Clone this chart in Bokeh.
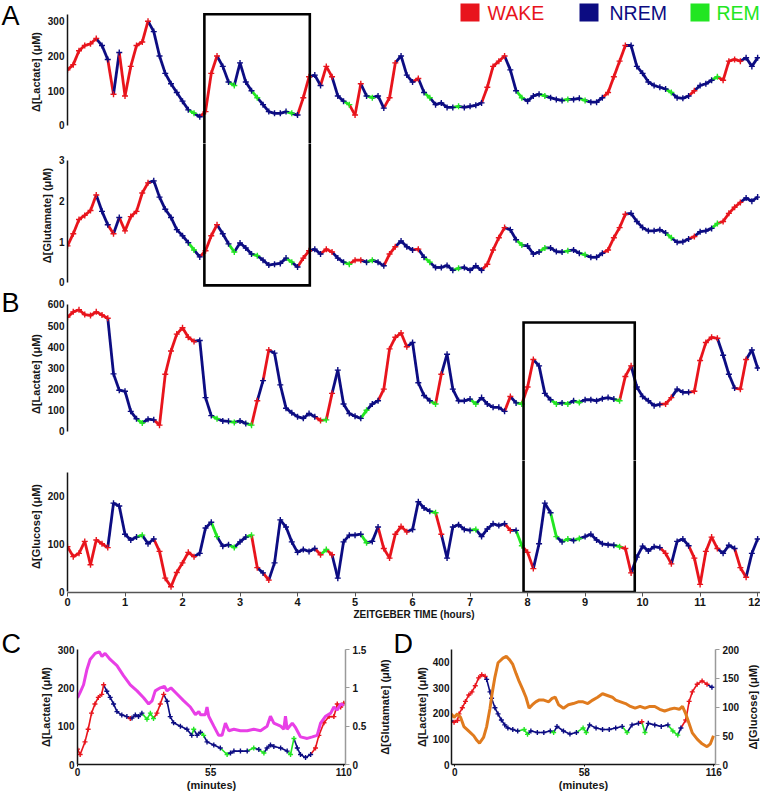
from bokeh.plotting import figure
from bokeh.models import (Range1d, LinearAxis, Label, BoxAnnotation, Spacer,
                          FixedTicker, ColumnDataSource, NumeralTickFormatter)
from bokeh.layouts import column, row
from bokeh.embed import file_html
from bokeh.resources import INLINE

# ------------------------------------------------------------------ data
# sampling times (hours) of the 12 h recordings
hours = [round(i * 0.1, 1) for i in range(121)]

# Panel A : lactate (uM) and glutamate (uM), one value per 0.1 h
a_lactate = [160, 175, 215, 230, 235, 250, 230, 190, 90, 210,
             85, 170, 230, 240, 300, 270, 200, 150, 120, 95,
             70, 45, 35, 25, 40, 150, 200, 170, 125, 115,
             180, 125, 100, 80, 60, 40, 35, 35, 40, 35,
             30, 80, 140, 145, 115, 170, 140, 85, 70, 60,
             30, 120, 85, 80, 85, 50, 80, 180, 200, 145,
             125, 135, 95, 80, 60, 65, 52, 52, 55, 52,
             55, 58, 65, 110, 170, 185, 200, 160, 100, 80,
             70, 85, 90, 85, 80, 75, 72, 75, 75, 78,
             72, 67, 67, 80, 95, 140, 185, 230, 230, 170,
             150, 125, 115, 110, 105, 95, 80, 78, 85, 100,
             115, 120, 130, 140, 130, 185, 190, 185, 195, 170,
             195]
a_glutamate = [0.90, 1.20, 1.55, 1.65, 1.77, 2.15, 1.75, 1.42, 1.20, 1.60,
               1.27, 1.62, 1.75, 2.20, 2.45, 2.50, 2.10, 1.80, 1.60, 1.30,
               1.15, 0.98, 0.80, 0.63, 0.78, 1.15, 1.42, 1.20, 0.95, 0.75,
               0.97, 0.85, 0.70, 0.66, 0.55, 0.43, 0.45, 0.47, 0.60, 0.50,
               0.38, 0.60, 0.78, 0.82, 0.70, 0.82, 0.75, 0.60, 0.50, 0.45,
               0.55, 0.55, 0.50, 0.55, 0.50, 0.41, 0.70, 0.88, 1.02, 0.88,
               0.80, 0.82, 0.62, 0.50, 0.37, 0.37, 0.42, 0.30, 0.35, 0.37,
               0.30, 0.41, 0.30, 0.45, 0.80, 1.10, 1.35, 1.30, 1.05, 0.92,
               0.90, 0.70, 0.75, 0.85, 0.85, 0.76, 0.75, 0.78, 0.80, 0.72,
               0.68, 0.62, 0.62, 0.72, 0.80, 1.10, 1.35, 1.68, 1.70, 1.50,
               1.35, 1.27, 1.27, 1.30, 1.22, 1.10, 0.99, 1.00, 1.07, 1.13,
               1.25, 1.27, 1.33, 1.45, 1.50, 1.70, 1.85, 1.97, 2.08, 2.00,
               2.10]
# W = WAKE, N = NREM, G = REM
a_states = ("WWWWWWNNWN" "WWWWWNNNNN" "NNGNWWWNNG" "NNNGNNNNNG" "NWWNNWWNNG"
            "WWNGNNWWNN" "NWNGNNNNGN" "NNNWWWWNNG" "NNNGNNNGNN" "GNNNWWWWNN"
            "NNNNNGNNNW" "NNNGWWWWNN" "N")

# Panel B : lactate (uM) and glucose (uM)
b_lactate = [540, 565, 575, 552, 548, 565, 550, 535, 272, 195,
             190, 95, 60, 40, 58, 55, 30, 270, 380, 460,
             490, 445, 425, 430, 160, 75, 60, 50, 48, 43,
             50, 38, 30, 145, 240, 385, 370, 220, 110, 88,
             70, 62, 85, 70, 52, 55, 180, 290, 130, 85,
             72, 62, 100, 130, 145, 200, 390, 445, 465, 400,
             420, 230, 170, 145, 130, 270, 365, 200, 145, 145,
             153, 130, 160, 130, 114, 114, 95, 165, 135, 130,
             210, 340, 310, 180, 150, 130, 135, 130, 145, 137,
             150, 150, 145, 155, 160, 153, 145, 260, 310, 210,
             165, 145, 122, 128, 130, 160, 200, 185, 185, 190,
             335, 420, 445, 440, 360, 270, 205, 200, 340, 385,
             300]
b_glucose = [94, 73, 80, 105, 56, 108, 100, 92, 185, 179,
             120, 108, 114, 118, 100, 110, 84, 28, 10, 40,
             60, 82, 73, 80, 133, 145, 115, 95, 98, 92,
             104, 114, 118, 50, 39, 24, 60, 150, 135, 104,
             82, 88, 84, 90, 77, 88, 77, 28, 104, 118,
             118, 120, 102, 105, 135, 90, 70, 120, 136, 125,
             130, 188, 175, 168, 165, 120, 70, 135, 140, 130,
             128, 130, 115, 131, 142, 138, 142, 128, 128, 96,
             82, 48, 100, 185, 165, 115, 104, 110, 107, 111,
             115, 120, 108, 100, 98, 97, 94, 90, 39, 72,
             95, 85, 94, 92, 80, 58, 105, 110, 96, 70,
             15, 84, 114, 90, 80, 97, 90, 50, 30, 80,
             110]
b_states = ("WWWWWWWWNN" "NNNGNNWWWW" "WWWNNNGNNG" "NNGWNWNNNN" "NNNNWGWNNN"
            "NNGNNWWWWW" "NNNNGWNNNN" "NGNNNNNWNG" "WWNNNGNGNG" "NNNNNNGWWN"
            "NNNNWWNNNW" "WWWWNNNWWN" "N")

# zoomed windows (start in hours, length in minutes)
box_a_start, box_a_minutes = 2.38, 110
box_b_start, box_b_minutes = 7.93, 116

# Panel C : 110 min window, lactate scatter + glutamate trace
c_minutes = [0, 1.1, 3.1, 4.4, 5.8, 7.2, 8.6, 10.0, 10.8, 12.1, 13.5, 14.9, 16.3,
             18.3, 20.4, 21.8, 22.5, 23.9, 25.2, 26.6, 28.7, 30.1, 31.4, 32.8,
             34.2, 35.6, 37.0, 38.3, 39.7, 42.5, 45.2, 47.2, 48.0, 49.4, 50.8,
             52.1, 53.5, 56.3, 59.0, 61.8, 63.2, 64.6, 67.3, 70.1, 72.8, 74.9,
             77.0, 78.3, 79.7, 81.1, 83.9, 86.6, 88.0, 89.4, 90.8, 92.1, 94.2,
             96.3, 98.3, 99.7, 101.8, 103.9, 105.9, 107.3, 108.7, 110.0]
c_lactate = [40, 26, 59, 92, 134, 158, 175, 183, 208, 191, 175, 158, 138,
             129, 125, 120, 121, 129, 125, 134, 118, 134, 120, 134,
             158, 183, 165, 125, 109, 100, 92, 76, 92, 76, 84,
             76, 59, 51, 43, 26, 30, 35, 35, 35, 43, 39,
             30, 43, 51, 47, 43, 35, 26, 68, 43, 26, 18,
             26, 43, 76, 109, 125, 125, 158, 150, 160]
c_states = ("WWWWWWWWW" "NNNNNN" "W" "NNNN" "GGG" "WWW" "NNNNNN" "G" "NN" "G"
            "NNN" "G" "NNNN" "G" "N" "G" "NNNNN" "GG" "NNNN" "WWWWWWWW")
c_glu_minutes = [0, 1.1, 2.5, 3.9, 5.2, 7.3, 9.0, 10.1, 11.4, 13.5, 16.3, 19.0,
                 21.8, 24.6, 27.3, 29.4, 30.8, 32.1, 34.2, 35.9, 37.0, 38.6, 41.1,
                 43.9, 46.6, 48.7, 50.1, 50.8, 52.8, 53.5, 54.2, 56.3, 58.3, 59.7,
                 61.1, 62.5, 64.6, 67.3, 70.1, 72.8, 75.6, 78.3, 79.7, 81.1, 83.9,
                 85.2, 85.9, 86.6, 88.7, 90.1, 92.1, 94.9, 97.0, 99.0, 100.4,
                 102.5, 104.6, 105.9, 107.3, 108.7, 110.0]
c_glutamate = [0.87, 0.94, 1.04, 1.24, 1.37, 1.45, 1.47, 1.41, 1.45, 1.37, 1.29, 1.16,
               1.04, 0.96, 0.87, 0.79, 0.83, 0.96, 1.00, 1.02, 0.96, 1.00, 0.92,
               0.83, 0.75, 0.65, 0.69, 0.65, 0.65, 0.75, 0.63, 0.50, 0.38, 0.38,
               0.54, 0.44, 0.46, 0.44, 0.44, 0.46, 0.44, 0.50, 0.63, 0.54, 0.50,
               0.46, 0.63, 0.46, 0.54, 0.48, 0.36, 0.34, 0.36, 0.38, 0.54,
               0.63, 0.67, 0.75, 0.71, 0.79, 0.77]

# Panel D : 116 min window, lactate scatter + glucose trace
d_minutes = [-1.5, -0.3, 1.2, 1.9, 3.4, 4.8, 6.3, 7.7, 9.2, 10.7, 12.1, 13.6, 14.3,
             15.8, 16.5, 18.0, 19.4, 20.9, 22.4, 23.8, 26.0, 28.2, 31.1, 32.6,
             34.1, 37.0, 39.9, 42.8, 44.3, 45.8, 48.7, 51.6, 54.5, 57.5, 58.9,
             60.4, 63.3, 66.2, 69.2, 72.1, 75.0, 77.2, 79.4, 82.3, 83.8, 85.2,
             86.7, 89.6, 92.5, 95.5, 97.7, 99.9, 101.3, 103.5, 105.0, 106.4,
             108.6, 110.8, 113.0, 115.2]
d_lactate = [170, 165, 172, 198, 222, 247, 272, 284, 308, 339, 351, 345, 333,
             284, 259, 222, 198, 174, 155, 143, 137, 131, 137, 118,
             131, 125, 125, 131, 125, 149, 131, 119, 125, 143, 125,
             155, 143, 137, 137, 143, 149, 125, 155, 161, 167, 125,
             161, 155, 149, 155, 131, 115, 143, 174, 247, 284,
             314, 327, 314, 302]
d_states = ("N" "WWWWWWWWWWW" "NNNNNNNNNN" "GG" "NNNN" "G" "NNNN" "GG" "NNNNNN"
            "G" "NN" "W" "G" "NNNN" "GG" "N" "WWWWWW" "N")
d_glc_minutes = [-1.5, -0.3, 1.2, 2.6, 4.1, 6.3, 8.5, 9.9, 11.1, 12.9, 14.3, 15.8,
                 16.8, 18.0, 19.4, 21.6, 23.1, 24.6, 26.0, 27.5, 28.9, 30.4, 31.9,
                 33.3, 34.8, 36.3, 37.7, 39.9, 42.1, 43.6, 45.0, 46.5, 48.7, 50.9,
                 53.1, 55.3, 57.5, 59.6, 61.8, 64.0, 66.2, 68.4, 70.6, 72.1, 74.3,
                 76.5, 78.7, 80.8, 83.0, 85.2, 87.4, 89.6, 91.8, 94.0, 96.2, 98.4,
                 100.6, 102.0, 103.5, 105.0, 106.4, 108.6, 110.8, 113.0, 114.5, 115.9]
d_glucose = [88, 82, 88, 82, 66, 58, 50, 42, 37, 47, 66, 98,
             125, 152, 177, 185, 188, 182, 174, 158, 144, 131, 117,
             98, 104, 109, 112, 112, 109, 115, 117, 104, 98, 104,
             106, 109, 109, 106, 112, 117, 123, 120, 117, 112, 109,
             106, 101, 98, 101, 98, 101, 101, 96, 93, 96, 98,
             96, 101, 88, 71, 55, 44, 36, 31, 36, 50]

hour_ticks = list(range(13))
legend_labels = ["WAKE", "NREM", "REM"]
legend_keys = ["W", "N", "G"]

# ------------------------------------------------------------------ style
STATE_COLORS = {"W": "#e8141c", "N": "#0c0c82", "G": "#22e622"}
FONT = "Liberation Sans"
INK = "#151515"
MAGENTA = "#e83fe6"
ORANGE = "#e07b1e"


def base_fig(width, height, xr, yr, left, right, top, bottom, x_axis=False,
             y_axis=True):
    p = figure(width=width, height=height,
               x_range=Range1d(*xr), y_range=Range1d(*yr),
               output_backend="svg", toolbar_location=None,
               x_axis_location="below" if x_axis else None,
               y_axis_location="left" if y_axis else None,
               min_border_left=left, min_border_right=right,
               min_border_top=top, min_border_bottom=bottom)
    p.outline_line_color = None
    p.grid.visible = False
    p.background_fill_color = "white"
    p.border_fill_color = "white"
    return p


def text_strip(width, height, text, x, y, size="27px"):
    s = base_fig(width, height, (0, 1), (0, 1), 0, 0, 0, 0, y_axis=False)
    s.add_layout(Label(x=x, y=y, x_units="screen", y_units="screen", text=text,
                       text_font=FONT, text_font_size=size,
                       text_baseline="top", text_color="black"))
    return s


def style_axis(ax, ticks, label, line_color=INK, tick_out=0, label_standoff=3,
               tick_standoff=3):
    ax.ticker = FixedTicker(ticks=ticks)
    ax.axis_label = label
    ax.axis_label_text_font = FONT
    ax.axis_label_text_font_style = "bold"
    ax.axis_label_text_font_size = "11px"
    ax.axis_label_text_color = INK
    ax.axis_label_standoff = label_standoff
    ax.major_label_text_font = FONT
    ax.major_label_text_font_style = "bold"
    ax.major_label_text_font_size = "10px"
    ax.major_label_text_color = INK
    ax.major_label_standoff = tick_standoff
    ax.major_tick_out = tick_out
    ax.major_tick_in = 0
    ax.minor_tick_out = 0
    ax.minor_tick_in = 0
    ax.major_tick_line_color = line_color
    ax.axis_line_color = line_color
    ax.axis_line_width = 1.5


def label_strip(width, height, text, left, top, bottom):
    """a narrow panel whose only content is an (upward reading) axis title,
    used for the titles of the right-hand axes of C and D"""
    s = base_fig(width, height, (0, 1), (0, 1), left, 0, top, bottom)
    ax = s.yaxis[0]
    style_axis(ax, [], text, label_standoff=0, tick_standoff=0)
    ax.axis_line_color = None
    ax.major_tick_line_color = None
    ax.minor_tick_line_color = None
    return s


def state_series(p, xs, ys, states, y_range_name="default", seg_width=2.8,
                 size=6):
    cols = [STATE_COLORS[s] for s in states]
    src = ColumnDataSource(dict(x0=xs[:-1], y0=ys[:-1], x1=xs[1:], y1=ys[1:],
                                c=cols[1:]))
    p.segment("x0", "y0", "x1", "y1", source=src, line_color="c",
              line_width=seg_width, y_range_name=y_range_name)
    p.scatter(xs, ys, marker="cross", size=size, line_color=cols,
              line_width=1.4, y_range_name=y_range_name)


def box_sides(p, start, minutes, y_edge, y_far):
    """three sides of the window box: y_edge is the horizontal side,
    y_far lies beyond the frame so that the box joins the next panel"""
    x1 = start + minutes / 60.0
    p.line([start, start, x1, x1], [y_far, y_edge, y_edge, y_far],
           line_color="black", line_width=2.6, line_join="miter")


XR = (0, 12.05)

# ---------------- A1 lactate  (page y 0..143)
pA1 = base_fig(740, 143, XR, (-51.8, 359.5), 47, 0, 0, 0)
style_axis(pA1.yaxis[0], [0, 100, 200, 300], "Δ[Lactate] (μM)")
pA1.yaxis[0].bounds = (0, 320)
state_series(pA1, hours, a_lactate, a_states)
box_sides(pA1, box_a_start, box_a_minutes, 320, -80)
sq_left = [393, 512, 623]
txt_left = [420, 542, 649]
for lab, key, sl, tl in zip(legend_labels, legend_keys, sq_left, txt_left):
    pA1.add_layout(BoxAnnotation(left=sl, right=sl + 19, top=140, bottom=122,
                                 left_units="screen", right_units="screen",
                                 top_units="screen", bottom_units="screen",
                                 fill_color=STATE_COLORS[key], fill_alpha=1.0,
                                 line_color=None))
    pA1.add_layout(Label(x=tl, y=130.5, x_units="screen", y_units="screen",
                         text=lab, text_font=FONT, text_font_size="19.5px",
                         text_baseline="middle", text_color=STATE_COLORS[key]))
letA = text_strip(20, 143, "A", 1, 143)

# ---------------- A2 glutamate (page y 143..287)
pA2 = base_fig(760, 144, XR, (-0.123, 3.418), 67, 0, 0, 0)
style_axis(pA2.yaxis[0], [0, 1, 2, 3], "Δ[Glutamate] (μM)")
pA2.yaxis[0].bounds = (0, 3)
state_series(pA2, hours, a_glutamate, a_states)
box_sides(pA2, box_a_start, box_a_minutes, -0.07, 4)

# ---------------- B1 lactate (page y 287..460)
pB1 = base_fig(740, 173, XR, (-137, 680), 47, 0, 0, 0)
style_axis(pB1.yaxis[0], [0, 100, 200, 300, 400, 500, 600], "Δ[Lactate] (μM)")
pB1.yaxis[0].bounds = (0, 600)
state_series(pB1, hours, b_lactate, b_states)
box_sides(pB1, box_b_start, box_b_minutes, 515, -200)
letB = text_strip(20, 173, "B", 1, 173)

# ---------------- B2 glucose (page y 460..622)
pB2 = base_fig(760, 162, XR, (-2, 274.3), 67, 0, 0, 28, x_axis=True)
style_axis(pB2.yaxis[0], [0, 100, 200], "Δ[Glucose] (μM)")
pB2.yaxis[0].bounds = (0, 250)
style_axis(pB2.xaxis[0], hour_ticks, "ZEITGEBER TIME (hours)", line_color="#555555",
           tick_out=4, label_standoff=0, tick_standoff=1)
pB2.xaxis[0].axis_label_text_font_size = "10px"
pB2.xaxis[0].major_label_text_font_size = "11px"
state_series(pB2, hours, b_glucose, b_states)
box_sides(pB2, box_b_start, box_b_minutes, -1.2, 400)

# ---------------- C (page y 622..793)
H5 = 171
TOP5, BOT5 = 27, 25
pC = base_fig(350, H5, (0, 110.7), (0, 300), 57, 25, TOP5, BOT5, x_axis=True)
pC.extra_y_ranges = {"glu": Range1d(0, 1.5)}
style_axis(pC.yaxis[0], [0, 100, 200, 300], "Δ[Lactate] (μM)")
style_axis(pC.xaxis[0], [0, 55, 110], "(minutes)", tick_out=2, label_standoff=0,
           tick_standoff=1)
axC = LinearAxis(y_range_name="glu")
style_axis(axC, [0, 0.5, 1, 1.5], None, line_color="#9a9a9a", tick_out=4)
axC.formatter = NumeralTickFormatter(format="0.[0]")
pC.add_layout(axC, "right")
state_series(pC, c_minutes, c_lactate, c_states, seg_width=1.6, size=5)
pC.line(c_glu_minutes, c_glutamate, y_range_name="glu", line_color=MAGENTA,
        line_width=3)
letC = column(Spacer(width=20, height=6), text_strip(20, H5 - 6, "C", 1, H5 - 6))
labC = label_strip(22, H5, "Δ[Glutamate] (μM)", 20, TOP5, BOT5)

# ---------------- D
pD = base_fig(330, H5, (-1.45, 116.8), (0, 450), 34, 27, TOP5, BOT5, x_axis=True)
pD.extra_y_ranges = {"glc": Range1d(0, 200)}
style_axis(pD.yaxis[0], [0, 100, 200, 300, 400], "Δ[Lactate] (μM)",
           label_standoff=2, tick_standoff=2)
style_axis(pD.xaxis[0], [0, 58, 116], "(minutes)", tick_out=2, label_standoff=0,
           tick_standoff=1)
axD = LinearAxis(y_range_name="glc")
style_axis(axD, [0, 50, 100, 150, 200], None, line_color="#9a9a9a", tick_out=4)
pD.add_layout(axD, "right")
state_series(pD, d_minutes, d_lactate, d_states, seg_width=1.6, size=5)
pD.line(d_glc_minutes, d_glucose, y_range_name="glc", line_color=ORANGE,
        line_width=3)
letD = column(Spacer(width=20, height=6), text_strip(20, H5 - 6, "D", 1, H5 - 6))
labD = label_strip(18, H5, "Δ[Glucose] (μM)", 16, TOP5, BOT5)

layout = column(row(letA, pA1), pA2, row(letB, pB1), pB2,
                row(letC, pC, labC, letD, pD, labD))

html = file_html(layout, INLINE, title="Lactate, glutamate and glucose")
with open("out.html", "w") as f:
    f.write(html)
